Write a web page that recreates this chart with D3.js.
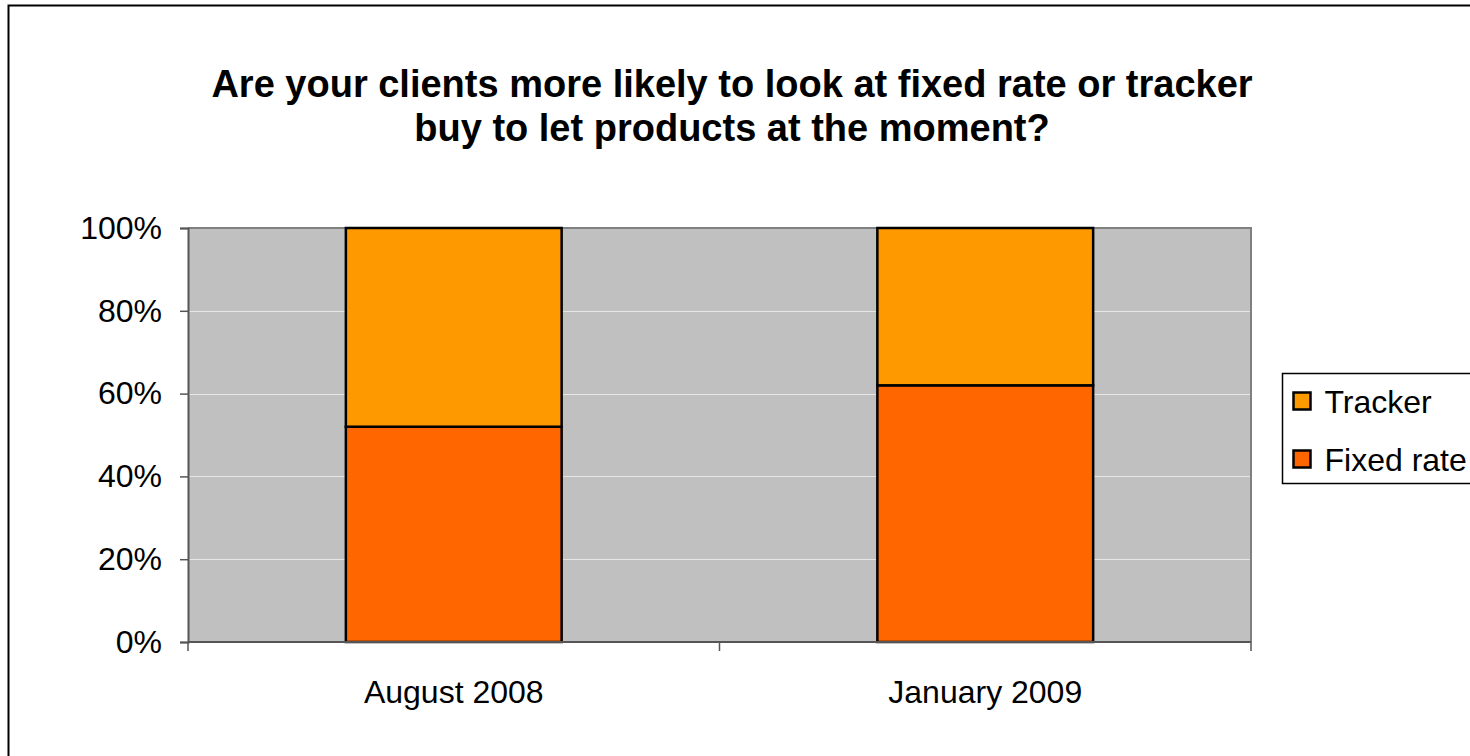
<!DOCTYPE html>
<html>
<head>
<meta charset="utf-8">
<script src="https://cdn.jsdelivr.net/npm/d3@7"></script>
<style>
  html, body { margin: 0; padding: 0; background: #fff; }
  svg { display: block; font-family: "Liberation Sans", Arial, sans-serif; }
</style>
</head>
<body>
<svg id="chart" width="1470" height="756"></svg>
<script>
// Survey periods and the share of each product type
const categories = ["August 2008", "January 2009"];
const fixedRate = [0.52, 0.62];
const tracker = [0.48, 0.38];
const seriesNames = ["Fixed rate", "Tracker"];
const seriesColors = ["#FF6600", "#FF9900"];
const yTicks = [0, 0.2, 0.4, 0.6, 0.8, 1.0];
const titleLines = [
  "Are your clients more likely to look at fixed rate or tracker",
  "buy to let products at the moment?"
];

const svg = d3.select("#chart");
const W = 1470, H = 756;
const FONT = "'Liberation Sans', Arial, sans-serif";

// Outer chart frame
svg.append("rect")
  .attr("x", 8.5).attr("y", 5.5)
  .attr("width", W + 20).attr("height", H + 20)
  .attr("fill", "#fff").attr("stroke", "#000").attr("stroke-width", 2);

// Title
svg.append("g").selectAll("text")
  .data(titleLines).join("text")
  .attr("x", 732).attr("y", (d, i) => 97 + i * 44)
  .attr("text-anchor", "middle")
  .attr("font-size", 38).attr("font-weight", "bold")
  .attr("fill", "#000")
  .text(d => d);

const plot = { left: 188, right: 1251, top: 228, bottom: 642 };

const x = d3.scaleBand()
  .domain(categories)
  .range([plot.left, plot.right])
  .paddingInner(0.594)
  .paddingOuter(0.297);

const y = d3.scaleLinear().domain([0, 1]).range([plot.bottom, plot.top]);

// Plot background
svg.append("rect")
  .attr("x", plot.left).attr("y", plot.top)
  .attr("width", plot.right - plot.left).attr("height", plot.bottom - plot.top)
  .attr("fill", "#C0C0C0");

// Gridlines
svg.append("g").selectAll("line")
  .data(yTicks.slice(1, -1)).join("line")
  .attr("x1", plot.left).attr("x2", plot.right)
  .attr("y1", d => Math.round(y(d)) + 0.5).attr("y2", d => Math.round(y(d)) + 0.5)
  .attr("stroke", "#E6E6E6").attr("stroke-width", 1);

// Plot border on top and right
svg.append("path")
  .attr("d", `M${plot.left},${plot.top} H${plot.right} V${plot.bottom}`)
  .attr("fill", "none").attr("stroke", "#808080").attr("stroke-width", 2);

// Stacked bars
const stackData = categories.map((c, i) => ({ cat: c, "Fixed rate": fixedRate[i], "Tracker": tracker[i] }));
const stacked = d3.stack().keys(seriesNames)(stackData);

svg.append("g").selectAll("g")
  .data(stacked).join("g")
  .attr("fill", (d, i) => seriesColors[i])
  .selectAll("rect")
  .data(d => d).join("rect")
  .attr("x", d => x(d.data.cat))
  .attr("y", d => y(d[1]))
  .attr("width", x.bandwidth())
  .attr("height", d => y(d[0]) - y(d[1]))
  .attr("stroke", "#000").attr("stroke-width", 2.5);

// Y axis
const yAxis = d3.axisLeft(y).tickValues(yTicks).tickFormat(d3.format(".0%")).tickSize(8).tickPadding(18);
const gy = svg.append("g").attr("transform", `translate(${plot.left},0)`).call(yAxis);
gy.select(".domain").attr("stroke", "#555").attr("stroke-width", 2);
gy.selectAll(".tick line").attr("stroke", "#555").attr("stroke-width", 1.5);
gy.selectAll(".tick text").attr("font-size", 32).attr("fill", "#000")
  .attr("font-family", FONT);

// X axis with category boundary ticks
const gx = svg.append("g").attr("transform", `translate(0,${plot.bottom})`);
gx.append("line")
  .attr("x1", plot.left).attr("x2", plot.right)
  .attr("y1", 0).attr("y2", 0)
  .attr("stroke", "#555").attr("stroke-width", 2);
const boundaries = [plot.left].concat(categories.map(c => x(c) + x.bandwidth() / 2 + x.step() / 2));
gx.selectAll("line.tick").data(boundaries).join("line")
  .attr("class", "tick")
  .attr("x1", d => d).attr("x2", d => d)
  .attr("y1", 0).attr("y2", 9)
  .attr("stroke", "#555").attr("stroke-width", 1.5);
gx.selectAll("text").data(categories).join("text")
  .attr("x", d => x(d) + x.bandwidth() / 2)
  .attr("y", 61)
  .attr("text-anchor", "middle")
  .attr("font-size", 32).attr("fill", "#000")
  .text(d => d);

// Legend
const legend = svg.append("g").attr("transform", "translate(1282.5,373.5)");
legend.append("rect")
  .attr("width", 220).attr("height", 110)
  .attr("fill", "#fff").attr("stroke", "#000").attr("stroke-width", 1.5);
const legendItems = seriesNames.map((n, i) => ({ name: n, color: seriesColors[i] })).reverse();
const li = legend.selectAll("g.item").data(legendItems).join("g")
  .attr("class", "item")
  .attr("transform", (d, i) => `translate(0,${i * 58})`);
li.append("rect")
  .attr("x", 11).attr("y", 19)
  .attr("width", 17).attr("height", 17)
  .attr("fill", d => d.color).attr("stroke", "#000").attr("stroke-width", 2.5);
li.append("text")
  .attr("x", 42).attr("y", 39)
  .attr("font-size", 32).attr("fill", "#000")
  .text(d => d.name);
</script>
</body>
</html>
